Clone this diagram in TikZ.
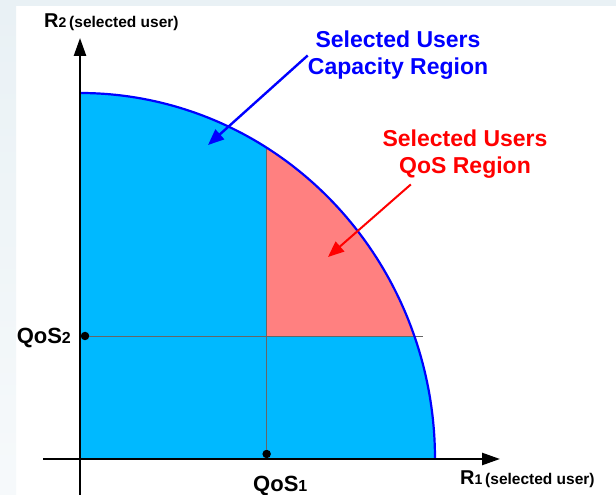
\documentclass[tikz,border=0pt]{standalone}
\usepackage{fontspec}
\setmainfont{Liberation Sans}
\usetikzlibrary{arrows.meta}
\definecolor{framebg}{RGB}{233,241,245}
\definecolor{capblue}{RGB}{0,185,255}
\definecolor{qosred}{RGB}{255,128,128}
\newcommand{\ratelabel}[1]{{\fontsize{20}{22}\selectfont R}{\fontsize{14}{16}\selectfont #1} {\fontsize{15.5}{18}\selectfont (selected user)}}
\newcommand{\qoslabel}[1]{{\fontsize{22}{24}\selectfont QoS}{\fontsize{16}{18}\selectfont #1}}

\begin{document}
\begin{tikzpicture}[
  axis/.style={line width=2.5pt,-{Triangle[length=18pt,width=12pt]}},
  guide/.style={gray!80!black,line width=0.9pt},
  dot/.style={circle,fill=black,inner sep=0pt,minimum size=8.5pt},
  note/.style={font=\bfseries\fontsize{23}{27}\selectfont,align=center,inner sep=0pt},
  pointer/.style={line width=2.4pt,-{Triangle[length=16pt,width=13pt]}},
  ]
\useasboundingbox (-2.812,-1.265) rectangle (18.838,16.132);
%---------------- frame
\fill[white] (-2.812,-1.265) rectangle (18.838,16.132);
\fill[framebg] (-2.812,15.921) rectangle (18.838,16.132);
\shade[top color=framebg,bottom color=framebg!40!white] (-2.812,-1.265) rectangle (-2.249,15.921);

%---------------- regions
% capacity region: quarter ellipse, radii 12.477 and 12.864
\fill[capblue] (0,0) -- plot[domain=90:0,samples=90] ({12.477*cos(\x)},{12.864*sin(\x)}) -- cycle;
% QoS region: above QoS2, right of QoS1
\fill[qosred] (6.56,4.323) -- plot[domain=58.28:19.636,samples=60] ({12.477*cos(\x)},{12.864*sin(\x)}) -- cycle;

% QoS thresholds
\node[dot] (qos1dot) at (6.56,0.176) {};
\node[dot] (qos2dot) at (0.176,4.323) {};
\coordinate (qos1top) at (6.56,10.942);   % on the boundary
\coordinate (qos2end) at (12.055,4.323);  % just past the boundary
\draw[guide] (qos1dot) -- (qos1top);
\draw[guide] (qos2dot) -- (qos2end);

% boundary
\draw[blue,line width=2.2pt] plot[domain=90:0,samples=90] ({12.477*cos(\x)},{12.864*sin(\x)});

% axes
\draw[axis] (-1.300,0) -- (14.761,0);
\draw[axis] (0,-1.265) -- (0,14.797);
\node[anchor=base west,inner sep=0pt,font=\bfseries] (r1label) at (13.356,-0.879) {\ratelabel{1}};
\node[anchor=base west,inner sep=0pt,font=\bfseries] (r2label) at (-1.265,15.148) {\ratelabel{2}};
\node[anchor=base west,inner sep=0pt,font=\bfseries] (qos1label) at (6.08,-1.125) {\qoslabel{1}};
\node[anchor=base west,inner sep=0pt,font=\bfseries] (qos2label) at (-2.23,4.042) {\qoslabel{2}};

%---------------- annotations
\node[note,blue] (capnote) at (11.177,14.182) {Selected Users\\Capacity Region};
\node[note,red] (qosnote) at (13.531,10.711) {Selected Users\\QoS Region};
\coordinate (captip) at (4.499,11.036);
\coordinate (qostip) at (8.716,7.100);
\draw[pointer,blue] (capnote.west) -- (captip);
\draw[pointer,red,line width=2pt] ([xshift=28.5pt,yshift=-5.7pt]qosnote.south west) -- (qostip);
\end{tikzpicture}
\end{document}
